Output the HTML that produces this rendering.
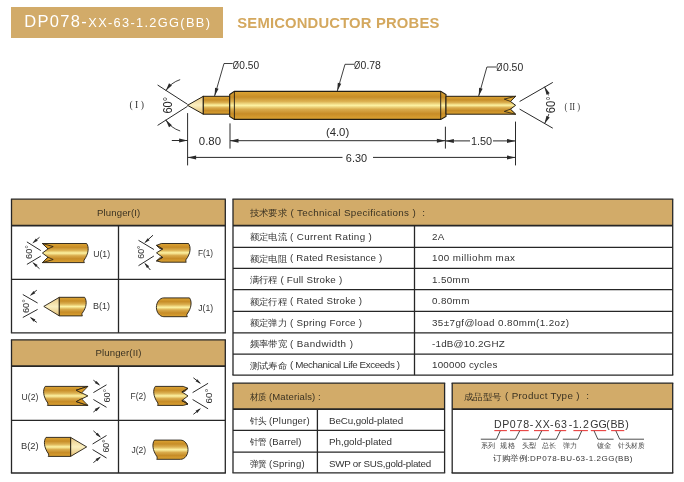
<!DOCTYPE html>
<html><head><meta charset="utf-8"><style>
html,body{margin:0;padding:0;background:#fff;width:684px;height:482px;overflow:hidden}
svg{display:block;will-change:transform}
</style></head><body>
<svg width="684" height="482" viewBox="0 0 684 482">
<defs>
<linearGradient id="gold" x1="0" y1="0" x2="0" y2="1">
<stop offset="0" stop-color="#dea533"/><stop offset="0.2" stop-color="#c78d27"/><stop offset="0.36" stop-color="#dcb152"/><stop offset="0.5" stop-color="#fdf3a3"/><stop offset="0.64" stop-color="#d9ab4c"/><stop offset="0.8" stop-color="#c78c27"/><stop offset="1" stop-color="#dca332"/>
</linearGradient>
<linearGradient id="cone" x1="0" y1="0" x2="0" y2="1">
<stop offset="0" stop-color="#e8c680"/><stop offset="0.5" stop-color="#fbefc0"/><stop offset="1" stop-color="#e2bc70"/>
</linearGradient>
</defs>
<rect x="11" y="7" width="212" height="31" fill="#d2ab69"/>
<text x="24.20" y="26.90" font-size="16.5" fill="#ffffff" font-family="'Liberation Sans',sans-serif" textLength="62.60" lengthAdjust="spacing" >DP078-</text>
<text x="88.30" y="26.70" font-size="12.8" fill="#ffffff" font-family="'Liberation Sans',sans-serif" textLength="121.60" lengthAdjust="spacing" >XX-63-1.2GG(BB)</text>
<text x="237.30" y="27.70" font-size="14.8" fill="#d4a85e" font-family="'Liberation Sans',sans-serif" textLength="202.00" lengthAdjust="spacing" font-weight="bold" >SEMICONDUCTOR PROBES</text>
<line x1="157.60" y1="85.00" x2="187.50" y2="104.30" stroke="#2a2a2a" stroke-width="1"/>
<line x1="157.60" y1="125.40" x2="187.50" y2="106.30" stroke="#2a2a2a" stroke-width="1"/>
<path d="M180.16,79.62 A27,27 0 0 0 165.73,90.79" fill="none" stroke="#2a2a2a" stroke-width="0.9"/>
<path d="M165.73,90.79 L169.01,83.28 L171.91,85.41 Z" fill="#2a2a2a"/>
<path d="M180.16,130.98 A27,27 0 0 1 165.73,119.81" fill="none" stroke="#2a2a2a" stroke-width="0.9"/>
<path d="M165.73,119.81 L171.91,125.19 L169.01,127.32 Z" fill="#2a2a2a"/>
<text transform="translate(171.50,113.60) rotate(-90)" x="0" y="0" font-size="12" font-family="'Liberation Sans',sans-serif" fill="#2a2a2a" textLength="16.70" lengthAdjust="spacingAndGlyphs">60°</text>
<text x="129.40" y="107.60" font-size="10" fill="#333" font-family="'Liberation Serif',serif" textLength="14.60" lengthAdjust="spacingAndGlyphs" >( I )</text>
<path d="M187.5,105.3 L203.3,96.3 L203.3,114.2 Z" fill="url(#cone)" stroke="#221d14" stroke-width="1" stroke-linejoin="round"/>
<rect x="203.3" y="96.3" width="26.4" height="17.9" fill="url(#gold)" stroke="#221d14" stroke-width="1"/>
<path d="M229.7,94.5 L234.4,91.4 L440.7,91.4 L446,94.5 L446,116.4 L440.7,119.4 L234.4,119.4 L229.7,116.4 Z" fill="url(#gold)" stroke="#221d14" stroke-width="1.1"/>
<line x1="234.40" y1="91.40" x2="234.40" y2="119.40" stroke="#221d14" stroke-width="0.9"/>
<line x1="440.70" y1="91.40" x2="440.70" y2="119.40" stroke="#221d14" stroke-width="0.9"/>
<path d="M446,96.3 L515.6,96.3 L510.4,101.4 L515.6,105.3 L510.4,109.2 L515.6,114.2 L446,114.2 Z" fill="url(#gold)" stroke="#221d14" stroke-width="1" stroke-linejoin="miter"/>
<path d="M515.6,96.3 L504.3,99.1 L510.4,101.4 Z" fill="#e0a830" stroke="#221d14" stroke-width="0.8"/>
<path d="M515.6,114.2 L504.3,111.4 L510.4,109.2 Z" fill="#e0a830" stroke="#221d14" stroke-width="0.8"/>
<line x1="519.60" y1="101.50" x2="552.80" y2="82.40" stroke="#2a2a2a" stroke-width="1"/>
<line x1="519.60" y1="109.10" x2="552.80" y2="128.20" stroke="#2a2a2a" stroke-width="1"/>
<path d="M544.51,86.78 A34,34 0 0 1 544.51,123.82" fill="none" stroke="#2a2a2a" stroke-width="0.9"/>
<path d="M544.51,86.78 L549.70,93.14 L546.47,94.74 Z" fill="#2a2a2a"/>
<path d="M544.51,123.82 L546.47,115.86 L549.70,117.46 Z" fill="#2a2a2a"/>
<rect x="545" y="95.5" width="11" height="18.5" fill="#fff"/>
<text transform="translate(555.10,113.30) rotate(-90)" x="0" y="0" font-size="12" font-family="'Liberation Sans',sans-serif" fill="#2a2a2a" textLength="17.10" lengthAdjust="spacingAndGlyphs">60°</text>
<text x="564.50" y="109.70" font-size="10" fill="#333" font-family="'Liberation Serif',serif" textLength="15.50" lengthAdjust="spacingAndGlyphs" >( II )</text>
<path d="M214.6,96.0 L224,63.5 L232.7,63.5" fill="none" stroke="#2a2a2a" stroke-width="0.9"/>
<path d="M214.60,96.00 L215.09,87.81 L218.55,88.82 Z" fill="#2a2a2a"/>
<text x="232.70" y="68.70" font-size="10.5" fill="#2a2a2a" font-family="'Liberation Sans',sans-serif" textLength="6.20" lengthAdjust="spacingAndGlyphs" >Ø</text>
<text x="239.30" y="68.70" font-size="10.5" fill="#2a2a2a" font-family="'Liberation Sans',sans-serif" textLength="19.80" lengthAdjust="spacingAndGlyphs" >0.50</text>
<path d="M337.3,91.0 L345,64.3 L354,64.3" fill="none" stroke="#2a2a2a" stroke-width="0.9"/>
<path d="M337.30,91.00 L337.79,82.81 L341.25,83.81 Z" fill="#2a2a2a"/>
<text x="354.00" y="68.70" font-size="10.5" fill="#2a2a2a" font-family="'Liberation Sans',sans-serif" textLength="6.20" lengthAdjust="spacingAndGlyphs" >Ø</text>
<text x="360.60" y="68.70" font-size="10.5" fill="#2a2a2a" font-family="'Liberation Sans',sans-serif" textLength="20.30" lengthAdjust="spacingAndGlyphs" >0.78</text>
<path d="M478.7,96.0 L486.9,67 L496.3,67" fill="none" stroke="#2a2a2a" stroke-width="0.9"/>
<path d="M478.70,96.00 L479.14,87.81 L482.61,88.79 Z" fill="#2a2a2a"/>
<text x="496.30" y="71.30" font-size="10.5" fill="#2a2a2a" font-family="'Liberation Sans',sans-serif" textLength="6.20" lengthAdjust="spacingAndGlyphs" >Ø</text>
<text x="502.90" y="71.30" font-size="10.5" fill="#2a2a2a" font-family="'Liberation Sans',sans-serif" textLength="20.30" lengthAdjust="spacingAndGlyphs" >0.50</text>
<line x1="187.60" y1="113.10" x2="187.60" y2="165.40" stroke="#2a2a2a" stroke-width="1"/>
<line x1="171.80" y1="140.50" x2="187.60" y2="140.50" stroke="#2a2a2a" stroke-width="1"/>
<path d="M187.60,140.50 L179.10,142.50 L179.10,138.50 Z" fill="#2a2a2a"/>
<text x="198.80" y="144.60" font-size="11" fill="#2a2a2a" font-family="'Liberation Sans',sans-serif" textLength="22.20" lengthAdjust="spacingAndGlyphs" >0.80</text>
<line x1="230.00" y1="123.40" x2="230.00" y2="148.60" stroke="#2a2a2a" stroke-width="1"/>
<line x1="230.00" y1="140.70" x2="445.40" y2="140.70" stroke="#2a2a2a" stroke-width="1"/>
<path d="M230.00,140.70 L238.50,138.70 L238.50,142.70 Z" fill="#2a2a2a"/>
<path d="M445.40,140.70 L436.90,142.70 L436.90,138.70 Z" fill="#2a2a2a"/>
<text x="325.90" y="136.10" font-size="11" fill="#2a2a2a" font-family="'Liberation Sans',sans-serif" textLength="23.30" lengthAdjust="spacingAndGlyphs" >(4.0)</text>
<line x1="445.40" y1="126.70" x2="445.40" y2="148.60" stroke="#2a2a2a" stroke-width="1"/>
<line x1="445.40" y1="140.90" x2="470.00" y2="140.90" stroke="#2a2a2a" stroke-width="1"/>
<line x1="493.00" y1="140.90" x2="515.50" y2="140.90" stroke="#2a2a2a" stroke-width="1"/>
<path d="M445.40,140.90 L453.90,138.90 L453.90,142.90 Z" fill="#2a2a2a"/>
<path d="M515.50,140.90 L507.00,142.90 L507.00,138.90 Z" fill="#2a2a2a"/>
<text x="470.90" y="145.00" font-size="11" fill="#2a2a2a" font-family="'Liberation Sans',sans-serif" textLength="21.20" lengthAdjust="spacingAndGlyphs" >1.50</text>
<line x1="515.50" y1="121.60" x2="515.50" y2="165.40" stroke="#2a2a2a" stroke-width="1"/>
<line x1="187.60" y1="157.40" x2="342.50" y2="157.40" stroke="#2a2a2a" stroke-width="1"/>
<line x1="373.00" y1="157.40" x2="515.50" y2="157.40" stroke="#2a2a2a" stroke-width="1"/>
<path d="M187.60,157.40 L196.10,155.40 L196.10,159.40 Z" fill="#2a2a2a"/>
<path d="M515.50,157.40 L507.00,159.40 L507.00,155.40 Z" fill="#2a2a2a"/>
<text x="345.80" y="161.50" font-size="11" fill="#2a2a2a" font-family="'Liberation Sans',sans-serif" textLength="21.30" lengthAdjust="spacingAndGlyphs" >6.30</text>
<rect x="11.5" y="199.2" width="213.8" height="26.400000000000006" fill="#d2ab69"/>
<line x1="10.90" y1="199.20" x2="225.90" y2="199.20" stroke="#262626" stroke-width="1.3"/>
<line x1="10.90" y1="332.80" x2="225.90" y2="332.80" stroke="#262626" stroke-width="1.3"/>
<line x1="11.50" y1="199.20" x2="11.50" y2="332.80" stroke="#262626" stroke-width="1.3"/>
<line x1="225.30" y1="199.20" x2="225.30" y2="332.80" stroke="#262626" stroke-width="1.3"/>
<line x1="11.50" y1="225.60" x2="225.30" y2="225.60" stroke="#262626" stroke-width="1.8"/>
<line x1="11.50" y1="279.30" x2="225.30" y2="279.30" stroke="#262626" stroke-width="1.3"/>
<line x1="118.50" y1="225.60" x2="118.50" y2="332.80" stroke="#262626" stroke-width="1.3"/>
<text x="97.00" y="215.50" font-size="9.6" fill="#3a3222" font-family="'Liberation Sans',sans-serif" textLength="43.20" lengthAdjust="spacing" >Plunger(I)</text>
<rect x="11.5" y="339.8" width="213.8" height="26.399999999999977" fill="#d2ab69"/>
<line x1="10.90" y1="339.80" x2="225.90" y2="339.80" stroke="#262626" stroke-width="1.3"/>
<line x1="10.90" y1="473.00" x2="225.90" y2="473.00" stroke="#262626" stroke-width="1.3"/>
<line x1="11.50" y1="339.80" x2="11.50" y2="473.00" stroke="#262626" stroke-width="1.3"/>
<line x1="225.30" y1="339.80" x2="225.30" y2="473.00" stroke="#262626" stroke-width="1.3"/>
<line x1="11.50" y1="366.20" x2="225.30" y2="366.20" stroke="#262626" stroke-width="1.8"/>
<line x1="11.50" y1="420.30" x2="225.30" y2="420.30" stroke="#262626" stroke-width="1.3"/>
<line x1="118.50" y1="366.20" x2="118.50" y2="473.00" stroke="#262626" stroke-width="1.3"/>
<text x="95.50" y="355.80" font-size="9.6" fill="#3a3222" font-family="'Liberation Sans',sans-serif" textLength="45.90" lengthAdjust="spacing" >Plunger(II)</text>
<rect x="233.0" y="199.2" width="439.70000000000005" height="26.5" fill="#d2ab69"/>
<line x1="232.40" y1="199.20" x2="673.30" y2="199.20" stroke="#262626" stroke-width="1.3"/>
<line x1="232.40" y1="375.10" x2="673.30" y2="375.10" stroke="#262626" stroke-width="1.3"/>
<line x1="233.00" y1="199.20" x2="233.00" y2="375.10" stroke="#262626" stroke-width="1.3"/>
<line x1="672.70" y1="199.20" x2="672.70" y2="375.10" stroke="#262626" stroke-width="1.3"/>
<line x1="233.00" y1="225.70" x2="672.70" y2="225.70" stroke="#262626" stroke-width="1.8"/>
<line x1="233.00" y1="247.30" x2="672.70" y2="247.30" stroke="#262626" stroke-width="1.3"/>
<line x1="233.00" y1="268.40" x2="672.70" y2="268.40" stroke="#262626" stroke-width="1.3"/>
<line x1="233.00" y1="289.60" x2="672.70" y2="289.60" stroke="#262626" stroke-width="1.3"/>
<line x1="233.00" y1="311.30" x2="672.70" y2="311.30" stroke="#262626" stroke-width="1.3"/>
<line x1="233.00" y1="332.80" x2="672.70" y2="332.80" stroke="#262626" stroke-width="1.3"/>
<line x1="233.00" y1="354.10" x2="672.70" y2="354.10" stroke="#262626" stroke-width="1.3"/>
<line x1="414.50" y1="225.70" x2="414.50" y2="375.10" stroke="#262626" stroke-width="1.3"/>
<text x="249.50" y="215.80" font-size="9.2" fill="#3a3222" font-family="'Liberation Sans',sans-serif" textLength="37.60" lengthAdjust="spacingAndGlyphs" >技术要求</text>
<text x="290.40" y="215.60" font-size="9.8" fill="#3a3222" font-family="'Liberation Sans',sans-serif" textLength="125.30" lengthAdjust="spacing" >( Technical Specifications )</text>
<text x="422.30" y="215.60" font-size="9.8" fill="#3a3222" font-family="'Liberation Sans',sans-serif" >:</text>
<text x="249.50" y="240.30" font-size="8.8" fill="#333333" font-family="'Liberation Sans',sans-serif" textLength="37.40" lengthAdjust="spacingAndGlyphs" >额定电流</text>
<text x="290.00" y="240.00" font-size="9.8" fill="#333333" font-family="'Liberation Sans',sans-serif" textLength="81.80" lengthAdjust="spacing" >( Current Rating )</text>
<text x="432.00" y="240.00" font-size="9.8" fill="#333333" font-family="'Liberation Sans',sans-serif" textLength="12.30" lengthAdjust="spacing" >2A</text>
<text x="249.50" y="261.70" font-size="8.8" fill="#333333" font-family="'Liberation Sans',sans-serif" textLength="37.40" lengthAdjust="spacingAndGlyphs" >额定电阻</text>
<text x="290.00" y="261.40" font-size="9.8" fill="#333333" font-family="'Liberation Sans',sans-serif" textLength="92.30" lengthAdjust="spacing" >( Rated Resistance )</text>
<text x="432.00" y="261.40" font-size="9.8" fill="#333333" font-family="'Liberation Sans',sans-serif" textLength="83.00" lengthAdjust="spacing" >100 milliohm max</text>
<text x="249.50" y="283.10" font-size="8.8" fill="#333333" font-family="'Liberation Sans',sans-serif" textLength="28.05" lengthAdjust="spacingAndGlyphs" >满行程</text>
<text x="280.40" y="282.80" font-size="9.8" fill="#333333" font-family="'Liberation Sans',sans-serif" textLength="61.80" lengthAdjust="spacing" >( Full Stroke )</text>
<text x="432.00" y="282.80" font-size="9.8" fill="#333333" font-family="'Liberation Sans',sans-serif" textLength="37.30" lengthAdjust="spacing" >1.50mm</text>
<text x="249.50" y="304.50" font-size="8.8" fill="#333333" font-family="'Liberation Sans',sans-serif" textLength="37.40" lengthAdjust="spacingAndGlyphs" >额定行程</text>
<text x="290.00" y="304.20" font-size="9.8" fill="#333333" font-family="'Liberation Sans',sans-serif" textLength="72.10" lengthAdjust="spacing" >( Rated Stroke )</text>
<text x="432.00" y="304.20" font-size="9.8" fill="#333333" font-family="'Liberation Sans',sans-serif" textLength="37.30" lengthAdjust="spacing" >0.80mm</text>
<text x="249.50" y="325.90" font-size="8.8" fill="#333333" font-family="'Liberation Sans',sans-serif" textLength="37.40" lengthAdjust="spacingAndGlyphs" >额定弹力</text>
<text x="290.00" y="325.60" font-size="9.8" fill="#333333" font-family="'Liberation Sans',sans-serif" textLength="72.10" lengthAdjust="spacing" >( Spring Force )</text>
<text x="432.00" y="325.60" font-size="9.8" fill="#333333" font-family="'Liberation Sans',sans-serif" textLength="137.00" lengthAdjust="spacing" >35±7gf@load 0.80mm(1.2oz)</text>
<text x="249.50" y="347.30" font-size="8.8" fill="#333333" font-family="'Liberation Sans',sans-serif" textLength="37.40" lengthAdjust="spacingAndGlyphs" >频率带宽</text>
<text x="290.00" y="347.00" font-size="9.8" fill="#333333" font-family="'Liberation Sans',sans-serif" textLength="62.90" lengthAdjust="spacing" >( Bandwidth )</text>
<text x="432.00" y="347.00" font-size="9.8" fill="#333333" font-family="'Liberation Sans',sans-serif" textLength="72.70" lengthAdjust="spacing" >-1dB@10.2GHZ</text>
<text x="249.50" y="368.70" font-size="8.8" fill="#333333" font-family="'Liberation Sans',sans-serif" textLength="37.40" lengthAdjust="spacingAndGlyphs" >测试寿命</text>
<text x="290.00" y="368.40" font-size="9.8" fill="#333333" font-family="'Liberation Sans',sans-serif" textLength="110.00" lengthAdjust="spacing" >( Mechanical Life Exceeds )</text>
<text x="432.00" y="368.40" font-size="9.8" fill="#333333" font-family="'Liberation Sans',sans-serif" textLength="65.30" lengthAdjust="spacing" >100000 cycles</text>
<rect x="233.0" y="383.1" width="211.60000000000002" height="26.099999999999966" fill="#d2ab69"/>
<line x1="232.40" y1="383.10" x2="445.20" y2="383.10" stroke="#262626" stroke-width="1.3"/>
<line x1="232.40" y1="472.80" x2="445.20" y2="472.80" stroke="#262626" stroke-width="1.3"/>
<line x1="233.00" y1="383.10" x2="233.00" y2="472.80" stroke="#262626" stroke-width="1.3"/>
<line x1="444.60" y1="383.10" x2="444.60" y2="472.80" stroke="#262626" stroke-width="1.3"/>
<line x1="233.00" y1="409.20" x2="444.60" y2="409.20" stroke="#262626" stroke-width="1.8"/>
<line x1="233.00" y1="430.40" x2="444.60" y2="430.40" stroke="#262626" stroke-width="1.3"/>
<line x1="233.00" y1="452.20" x2="444.60" y2="452.20" stroke="#262626" stroke-width="1.3"/>
<line x1="317.40" y1="409.20" x2="317.40" y2="472.80" stroke="#262626" stroke-width="1.3"/>
<text x="249.50" y="399.60" font-size="8.9" fill="#3a3222" font-family="'Liberation Sans',sans-serif" textLength="17.20" lengthAdjust="spacingAndGlyphs" >材质</text>
<text x="269.00" y="399.60" font-size="9.5" fill="#3a3222" font-family="'Liberation Sans',sans-serif" textLength="51.70" lengthAdjust="spacing" >(Materials) :</text>
<text x="249.50" y="423.50" font-size="8.9" fill="#333333" font-family="'Liberation Sans',sans-serif" textLength="17.20" lengthAdjust="spacingAndGlyphs" >针头</text>
<text x="269.00" y="423.50" font-size="9.5" fill="#333333" font-family="'Liberation Sans',sans-serif" textLength="40.60" lengthAdjust="spacing" >(Plunger)</text>
<text x="329.00" y="423.50" font-size="9.8" fill="#333333" font-family="'Liberation Sans',sans-serif" textLength="74.10" lengthAdjust="spacing" >BeCu,gold-plated</text>
<text x="249.50" y="445.10" font-size="8.9" fill="#333333" font-family="'Liberation Sans',sans-serif" textLength="17.20" lengthAdjust="spacingAndGlyphs" >针管</text>
<text x="269.00" y="445.10" font-size="9.5" fill="#333333" font-family="'Liberation Sans',sans-serif" textLength="32.50" lengthAdjust="spacing" >(Barrel)</text>
<text x="329.00" y="445.10" font-size="9.8" fill="#333333" font-family="'Liberation Sans',sans-serif" textLength="62.90" lengthAdjust="spacing" >Ph,gold-plated</text>
<text x="249.50" y="466.70" font-size="8.9" fill="#333333" font-family="'Liberation Sans',sans-serif" textLength="17.20" lengthAdjust="spacingAndGlyphs" >弹簧</text>
<text x="269.00" y="466.70" font-size="9.5" fill="#333333" font-family="'Liberation Sans',sans-serif" textLength="35.60" lengthAdjust="spacing" >(Spring)</text>
<text x="329.00" y="466.70" font-size="9.8" fill="#333333" font-family="'Liberation Sans',sans-serif" textLength="102.20" lengthAdjust="spacing" >SWP or SUS,gold-plated</text>
<rect x="452.2" y="383.1" width="220.50000000000006" height="26.099999999999966" fill="#d2ab69"/>
<line x1="451.60" y1="383.10" x2="673.30" y2="383.10" stroke="#262626" stroke-width="1.3"/>
<line x1="451.60" y1="473.00" x2="673.30" y2="473.00" stroke="#262626" stroke-width="1.3"/>
<line x1="452.20" y1="383.10" x2="452.20" y2="473.00" stroke="#262626" stroke-width="1.3"/>
<line x1="672.70" y1="383.10" x2="672.70" y2="473.00" stroke="#262626" stroke-width="1.3"/>
<line x1="452.20" y1="409.20" x2="672.70" y2="409.20" stroke="#262626" stroke-width="1.8"/>
<text x="463.90" y="399.50" font-size="9.2" fill="#3a3222" font-family="'Liberation Sans',sans-serif" textLength="37.80" lengthAdjust="spacingAndGlyphs" >成品型号</text>
<text x="505.00" y="399.30" font-size="9.8" fill="#3a3222" font-family="'Liberation Sans',sans-serif" textLength="74.50" lengthAdjust="spacing" >( Product Type )</text>
<text x="586.30" y="399.30" font-size="9.8" fill="#3a3222" font-family="'Liberation Sans',sans-serif" >:</text>
<text x="494.08 502.28 509.66 516.59 523.15 529.74 534.90 542.80 549.94 554.40 560.92 568.74 572.87 578.90 582.99 590.20 598.60 606.16 610.58 617.58 625.18" y="428.4" font-size="10.6" fill="#333" font-family="'Liberation Sans',sans-serif">DP078-XX-63-1.2GG(BB)</text>
<line x1="494.30" y1="430.60" x2="506.90" y2="430.60" stroke="#e8403f" stroke-width="1.1"/>
<line x1="510.00" y1="430.60" x2="528.70" y2="430.60" stroke="#e8403f" stroke-width="1.1"/>
<line x1="534.00" y1="430.60" x2="548.90" y2="430.60" stroke="#e8403f" stroke-width="1.1"/>
<line x1="554.70" y1="430.60" x2="566.20" y2="430.60" stroke="#e8403f" stroke-width="1.1"/>
<line x1="573.40" y1="430.60" x2="587.90" y2="430.60" stroke="#e8403f" stroke-width="1.1"/>
<line x1="590.80" y1="430.60" x2="606.20" y2="430.60" stroke="#e8403f" stroke-width="1.1"/>
<line x1="611.10" y1="430.60" x2="624.30" y2="430.60" stroke="#e8403f" stroke-width="1.1"/>
<path d="M500.2,430.9 L496.5,439.2 L480.8,439.2" fill="none" stroke="#3a3a3a" stroke-width="0.9"/>
<path d="M519.7,430.9 L515.4,439.2 L500.2,439.2" fill="none" stroke="#3a3a3a" stroke-width="0.9"/>
<path d="M541.7,430.9 L537.6,439.2 L522.2,439.2" fill="none" stroke="#3a3a3a" stroke-width="0.9"/>
<path d="M560.4,430.9 L556.3,439.2 L541.2,439.2" fill="none" stroke="#3a3a3a" stroke-width="0.9"/>
<path d="M581.7,430.9 L578.0,439.2 L562.8,439.2" fill="none" stroke="#3a3a3a" stroke-width="0.9"/>
<path d="M594.1,430.9 L597.8,439.2 L613.6,439.2" fill="none" stroke="#3a3a3a" stroke-width="0.9"/>
<path d="M615.9,430.9 L619.7,439.2 L644.0,439.2" fill="none" stroke="#3a3a3a" stroke-width="0.9"/>
<text x="480.80" y="447.60" font-size="7.0" fill="#444" font-family="'Liberation Sans',sans-serif" textLength="14.20" lengthAdjust="spacingAndGlyphs" >系列</text>
<text x="500.30" y="447.60" font-size="7.0" fill="#444" font-family="'Liberation Sans',sans-serif" textLength="14.50" lengthAdjust="spacingAndGlyphs" >规格</text>
<text x="522.20" y="447.60" font-size="7.0" fill="#444" font-family="'Liberation Sans',sans-serif" textLength="14.50" lengthAdjust="spacingAndGlyphs" >头型</text>
<text x="542.20" y="447.60" font-size="7.0" fill="#444" font-family="'Liberation Sans',sans-serif" textLength="14.20" lengthAdjust="spacingAndGlyphs" >总长</text>
<text x="562.70" y="447.60" font-size="7.0" fill="#444" font-family="'Liberation Sans',sans-serif" textLength="14.30" lengthAdjust="spacingAndGlyphs" >弹力</text>
<text x="597.20" y="447.60" font-size="7.0" fill="#444" font-family="'Liberation Sans',sans-serif" textLength="14.60" lengthAdjust="spacingAndGlyphs" >镀金</text>
<text x="618.10" y="447.60" font-size="7.0" fill="#444" font-family="'Liberation Sans',sans-serif" textLength="26.20" lengthAdjust="spacingAndGlyphs" >针头材质</text>
<text x="493.00" y="461.30" font-size="8.3" fill="#333333" font-family="'Liberation Sans',sans-serif" textLength="34.20" lengthAdjust="spacingAndGlyphs" >订购举例</text>
<text x="527.30" y="461.10" font-size="8.0" fill="#333" font-family="'Liberation Sans',sans-serif" textLength="105.20" lengthAdjust="spacing" >:DP078-BU-63-1.2GG(BB)</text>
<path d="M42.4,243.5 L86.6,243.5 C89.20,247.00 88.80,253.50 84.00,260.20 Q83.70,262.00 84.40,262.60 L42.4,262.6 L48.00,257.25 42.40,253.05 48.00,248.85 Z" fill="url(#gold)" stroke="#221d14" stroke-width="0.9" stroke-linejoin="miter"/>
<path d="M42.40,243.50 53.20,246.56 48.00,248.85 Z" fill="#d99a25" stroke="#221d14" stroke-width="0.8" stroke-linejoin="miter"/>
<path d="M42.40,262.60 53.20,259.54 48.00,257.25 Z" fill="#d99a25" stroke="#221d14" stroke-width="0.8" stroke-linejoin="miter"/>
<line x1="26.90" y1="241.90" x2="40.80" y2="250.60" stroke="#2a2a2a" stroke-width="1.0"/>
<line x1="26.90" y1="264.40" x2="40.80" y2="256.10" stroke="#2a2a2a" stroke-width="1.0"/>
<line x1="39.50" y1="237.30" x2="33.50" y2="242.20" stroke="#2a2a2a" stroke-width="1.0"/>
<path d="M32.30,243.60 L35.89,238.60 L37.74,240.70 Z" fill="#2a2a2a"/>
<line x1="39.50" y1="268.70" x2="33.50" y2="263.40" stroke="#2a2a2a" stroke-width="1.0"/>
<path d="M32.30,262.00 L37.65,265.06 L35.74,267.11 Z" fill="#2a2a2a"/>
<text transform="translate(31.90,258.90) rotate(-90)" x="0" y="0" font-size="8.6" font-family="'Liberation Sans',sans-serif" fill="#2a2a2a" textLength="13.90" lengthAdjust="spacingAndGlyphs">60°</text>
<text x="93.20" y="256.90" font-size="9.3" fill="#333333" font-family="'Liberation Sans',sans-serif" textLength="16.90" lengthAdjust="spacingAndGlyphs" >U(1)</text>
<path d="M161.3,243.5 L188.5,243.5 C191.10,247.00 190.70,253.50 185.90,259.80 Q185.60,261.60 186.30,262.20 L161.3,262.2 L156.5,260.9 L162.6,257.4 L156.5,252.85 L162.6,249.0 L156.5,245.4 Z" fill="url(#gold)" stroke="#221d14" stroke-width="0.9" stroke-linejoin="miter"/>
<path d="M156.50,245.40 162.60,249.00 159.70,248.50 Z" fill="#d99a25" stroke="#221d14" stroke-width="0.8" stroke-linejoin="miter"/>
<path d="M156.50,260.90 162.60,257.40 159.70,257.90 Z" fill="#d99a25" stroke="#221d14" stroke-width="0.8" stroke-linejoin="miter"/>
<line x1="138.50" y1="240.30" x2="153.90" y2="249.50" stroke="#2a2a2a" stroke-width="1.0"/>
<line x1="138.50" y1="265.70" x2="153.90" y2="256.00" stroke="#2a2a2a" stroke-width="1.0"/>
<line x1="153.00" y1="235.20" x2="145.50" y2="242.00" stroke="#2a2a2a" stroke-width="1.0"/>
<path d="M144.20,243.30 L147.67,238.21 L149.56,240.27 Z" fill="#2a2a2a"/>
<line x1="150.40" y1="270.00" x2="145.20" y2="264.00" stroke="#2a2a2a" stroke-width="1.0"/>
<path d="M144.20,262.60 L149.13,266.30 L146.98,268.10 Z" fill="#2a2a2a"/>
<text transform="translate(144.20,258.70) rotate(-90)" x="0" y="0" font-size="8.6" font-family="'Liberation Sans',sans-serif" fill="#2a2a2a" textLength="13.20" lengthAdjust="spacingAndGlyphs">60°</text>
<text x="197.90" y="255.80" font-size="9.3" fill="#333333" font-family="'Liberation Sans',sans-serif" textLength="15.10" lengthAdjust="spacingAndGlyphs" >F(1)</text>
<path d="M43.8,306.4 L59.3,297.3 L59.3,315.9 Z" fill="url(#cone)" stroke="#221d14" stroke-width="0.9" stroke-linejoin="round"/>
<path d="M59.3,297.3 L84.6,297.3 C87.20,300.80 86.80,307.30 82.00,313.50 Q81.70,315.30 82.40,315.90 L59.3,315.9 Z" fill="url(#gold)" stroke="#221d14" stroke-width="0.9" stroke-linejoin="miter"/>
<line x1="22.80" y1="294.50" x2="37.60" y2="303.00" stroke="#2a2a2a" stroke-width="1.0"/>
<line x1="22.80" y1="317.50" x2="37.60" y2="309.40" stroke="#2a2a2a" stroke-width="1.0"/>
<line x1="36.80" y1="290.20" x2="30.80" y2="294.80" stroke="#2a2a2a" stroke-width="1.0"/>
<path d="M29.80,296.00 L33.53,291.09 L35.31,293.25 Z" fill="#2a2a2a"/>
<line x1="36.80" y1="322.40" x2="30.80" y2="318.00" stroke="#2a2a2a" stroke-width="1.0"/>
<path d="M29.80,316.80 L35.36,319.45 L33.61,321.64 Z" fill="#2a2a2a"/>
<text transform="translate(28.60,313.00) rotate(-90)" x="0" y="0" font-size="8.6" font-family="'Liberation Sans',sans-serif" fill="#2a2a2a" textLength="13.80" lengthAdjust="spacingAndGlyphs">60°</text>
<text x="92.90" y="308.80" font-size="9.3" fill="#333333" font-family="'Liberation Sans',sans-serif" textLength="17.00" lengthAdjust="spacingAndGlyphs" >B(1)</text>
<path d="M163.9,297.9 L189.5,297.9 C192.10,301.40 191.70,307.90 186.90,314.30 Q186.60,316.10 187.30,316.70 L163.9,316.7 C159.5,316.7 156.4,312.2 156.4,307.30 C156.4,302.4 159.5,297.9 163.9,297.9 Z" fill="url(#gold)" stroke="#221d14" stroke-width="0.9" stroke-linejoin="miter"/>
<text x="198.30" y="310.80" font-size="9.3" fill="#333333" font-family="'Liberation Sans',sans-serif" textLength="14.90" lengthAdjust="spacingAndGlyphs" >J(1)</text>
<path d="M45.2,386.4 L87.9,386.4 L76.30,390.20 87.90,395.90 76.30,401.60 L87.9,405.4 L47.40,405.40 Q48.10,404.80 47.80,403.00 C43.00,396.40 42.60,389.90 45.20,386.40 Z" fill="url(#gold)" stroke="#221d14" stroke-width="0.9" stroke-linejoin="miter"/>
<path d="M87.90,386.40 76.30,390.20 81.50,393.05 Z" fill="#d99a25" stroke="#221d14" stroke-width="0.8" stroke-linejoin="miter"/>
<path d="M87.90,405.40 76.30,401.60 81.50,398.75 Z" fill="#d99a25" stroke="#221d14" stroke-width="0.8" stroke-linejoin="miter"/>
<line x1="93.40" y1="392.60" x2="106.50" y2="384.80" stroke="#2a2a2a" stroke-width="1.0"/>
<line x1="93.40" y1="399.50" x2="106.50" y2="407.30" stroke="#2a2a2a" stroke-width="1.0"/>
<line x1="93.40" y1="380.20" x2="99.20" y2="384.60" stroke="#2a2a2a" stroke-width="1.0"/>
<path d="M100.30,385.80 L94.76,383.11 L96.52,380.93 Z" fill="#2a2a2a"/>
<line x1="93.40" y1="412.00" x2="99.20" y2="407.60" stroke="#2a2a2a" stroke-width="1.0"/>
<path d="M100.30,406.40 L96.52,411.27 L94.76,409.09 Z" fill="#2a2a2a"/>
<text transform="translate(110.00,402.60) rotate(-90)" x="0" y="0" font-size="8.6" font-family="'Liberation Sans',sans-serif" fill="#2a2a2a" textLength="13.90" lengthAdjust="spacingAndGlyphs">60°</text>
<text x="21.60" y="400.30" font-size="9.3" fill="#333333" font-family="'Liberation Sans',sans-serif" textLength="16.70" lengthAdjust="spacingAndGlyphs" >U(2)</text>
<path d="M155.3,386.4 L183.2,386.4 L188.0,388.29999999999995 L181.9,391.9 L188.0,395.90 L181.9,400.59999999999997 L188.0,404.09999999999997 L183.2,405.4 L157.50,405.40 Q158.20,404.80 157.90,403.00 C153.10,396.40 152.70,389.90 155.30,386.40 Z" fill="url(#gold)" stroke="#221d14" stroke-width="0.9" stroke-linejoin="miter"/>
<path d="M188.00,388.30 181.90,391.90 184.80,391.40 Z" fill="#d99a25" stroke="#221d14" stroke-width="0.8" stroke-linejoin="miter"/>
<path d="M188.00,404.10 181.90,400.60 184.80,401.10 Z" fill="#d99a25" stroke="#221d14" stroke-width="0.8" stroke-linejoin="miter"/>
<line x1="192.60" y1="392.60" x2="208.10" y2="383.30" stroke="#2a2a2a" stroke-width="1.0"/>
<line x1="192.60" y1="399.50" x2="208.10" y2="408.80" stroke="#2a2a2a" stroke-width="1.0"/>
<line x1="193.40" y1="377.80" x2="200.00" y2="383.00" stroke="#2a2a2a" stroke-width="1.0"/>
<path d="M201.10,384.00 L195.55,381.33 L197.30,379.15 Z" fill="#2a2a2a"/>
<line x1="193.40" y1="414.30" x2="200.00" y2="409.10" stroke="#2a2a2a" stroke-width="1.0"/>
<path d="M201.10,408.10 L197.30,412.95 L195.55,410.77 Z" fill="#2a2a2a"/>
<text transform="translate(212.00,403.40) rotate(-90)" x="0" y="0" font-size="8.6" font-family="'Liberation Sans',sans-serif" fill="#2a2a2a" textLength="14.70" lengthAdjust="spacingAndGlyphs">60°</text>
<text x="130.60" y="398.80" font-size="9.3" fill="#333333" font-family="'Liberation Sans',sans-serif" textLength="15.50" lengthAdjust="spacingAndGlyphs" >F(2)</text>
<path d="M86.7,446.9 L70.6,437.4 L70.6,456.4 Z" fill="url(#cone)" stroke="#221d14" stroke-width="0.9" stroke-linejoin="round"/>
<path d="M46.0,437.4 L70.6,437.4 L70.6,456.4 L48.20,456.40 Q48.90,455.80 48.60,454.00 C43.80,447.40 43.40,440.90 46.00,437.40 Z" fill="url(#gold)" stroke="#221d14" stroke-width="0.9" stroke-linejoin="miter"/>
<line x1="92.60" y1="444.00" x2="106.50" y2="435.50" stroke="#2a2a2a" stroke-width="1.0"/>
<line x1="92.60" y1="449.60" x2="106.50" y2="458.00" stroke="#2a2a2a" stroke-width="1.0"/>
<line x1="93.40" y1="430.80" x2="100.00" y2="436.80" stroke="#2a2a2a" stroke-width="1.0"/>
<path d="M101.10,437.80 L95.72,434.80 L97.60,432.73 Z" fill="#2a2a2a"/>
<line x1="93.40" y1="462.60" x2="100.00" y2="457.40" stroke="#2a2a2a" stroke-width="1.0"/>
<path d="M101.10,456.40 L97.30,461.25 L95.55,459.07 Z" fill="#2a2a2a"/>
<text transform="translate(108.90,452.50) rotate(-90)" x="0" y="0" font-size="8.6" font-family="'Liberation Sans',sans-serif" fill="#2a2a2a" textLength="13.10" lengthAdjust="spacingAndGlyphs">60°</text>
<text x="21.00" y="449.40" font-size="9.3" fill="#333333" font-family="'Liberation Sans',sans-serif" textLength="17.70" lengthAdjust="spacingAndGlyphs" >B(2)</text>
<path d="M154.5,440.1 L180.5,440.1 C185,440.1 188,444.6 188,449.70 C188,454.8 185,459.3 180.5,459.3 L156.70,459.30 Q157.40,458.70 157.10,456.90 C152.30,450.10 151.90,443.60 154.50,440.10 Z" fill="url(#gold)" stroke="#221d14" stroke-width="0.9" stroke-linejoin="miter"/>
<text x="131.40" y="453.00" font-size="9.3" fill="#333333" font-family="'Liberation Sans',sans-serif" textLength="14.70" lengthAdjust="spacingAndGlyphs" >J(2)</text>
</svg>
</body></html>
